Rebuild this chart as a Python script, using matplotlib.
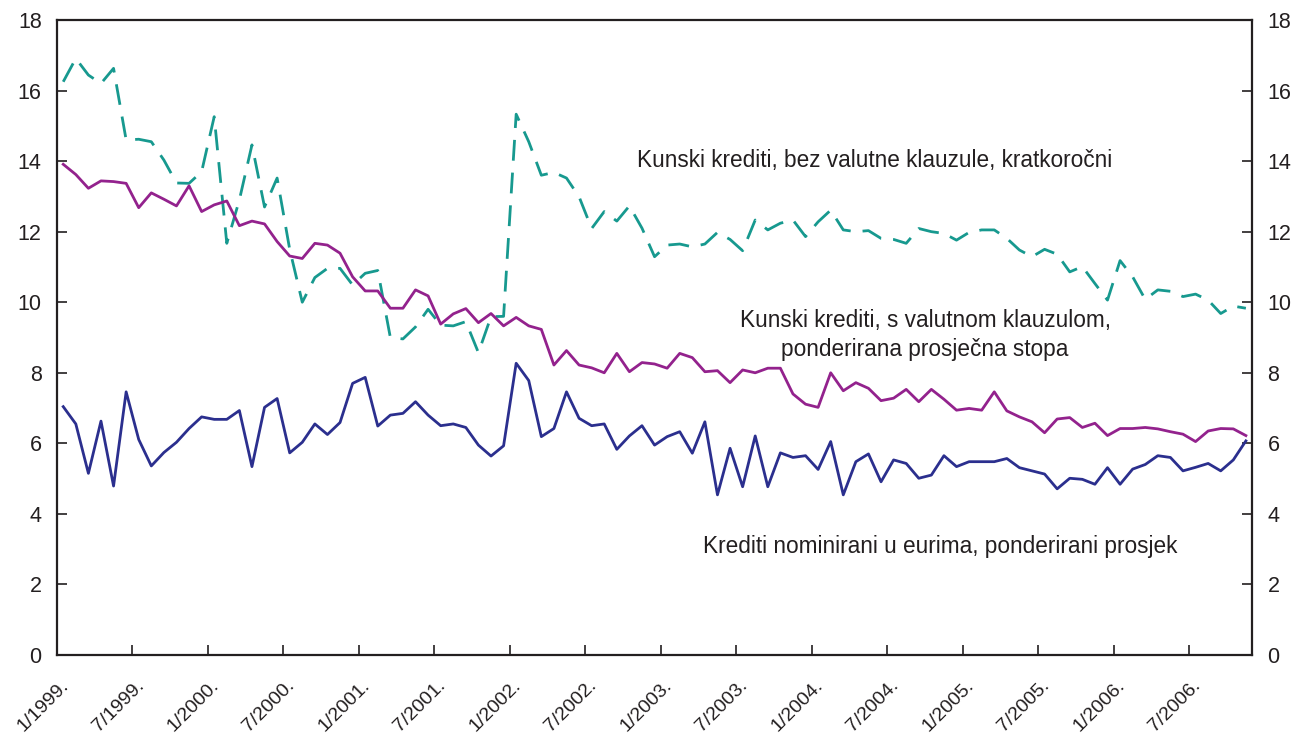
import matplotlib
matplotlib.use("Agg")
import matplotlib.pyplot as plt
import numpy as np

# ---- data (monthly, 1/1999 .. 11/2006) ----
kn_bez_klauzule = [
    16.25, 16.91, 16.44, 16.20, 16.63, 14.60, 14.62, 14.55, 14.03, 13.38, 13.37, 13.70,
    15.26, 11.67, 12.90, 14.46, 12.70, 13.52, 11.50, 10.00, 10.70, 10.96, 10.96, 10.49,
    10.82, 10.90, 9.00, 8.96, 9.30, 9.80, 9.35, 9.33, 9.45, 8.57, 9.59, 9.60,
    15.33, 14.55, 13.60, 13.68, 13.52, 12.99, 12.09, 12.57, 12.30, 12.73, 12.10, 11.29,
    11.62, 11.65, 11.57, 11.65, 11.98, 11.78, 11.46, 12.33, 12.05, 12.24, 12.33, 11.86,
    12.28, 12.61, 12.05, 12.00, 12.03, 11.81, 11.78, 11.67, 12.09, 12.00, 11.95, 11.76,
    11.98, 12.05, 12.05, 11.81, 11.48, 11.29, 11.50, 11.36, 10.86, 11.01, 10.53, 10.06,
    11.18, 10.72, 10.08, 10.35, 10.31, 10.16, 10.23, 10.06, 9.68, 9.89, 9.83,
]
kn_s_klauzulom = [
    13.91, 13.62, 13.23, 13.44, 13.42, 13.37, 12.68, 13.10, 12.92, 12.73, 13.30, 12.57,
    12.76, 12.87, 12.17, 12.30, 12.22, 11.72, 11.31, 11.24, 11.67, 11.62, 11.39, 10.72,
    10.32, 10.32, 9.83, 9.83, 10.35, 10.18, 9.38, 9.67, 9.82, 9.42, 9.68, 9.33,
    9.57, 9.33, 9.23, 8.22, 8.63, 8.22, 8.14, 8.00, 8.55, 8.03, 8.29, 8.25,
    8.13, 8.55, 8.43, 8.03, 8.06, 7.72, 8.08, 8.00, 8.13, 8.13, 7.40, 7.11,
    7.02, 8.00, 7.49, 7.72, 7.56, 7.21, 7.28, 7.53, 7.18, 7.53, 7.25, 6.94,
    6.99, 6.94, 7.46, 6.92, 6.75, 6.61, 6.30, 6.69, 6.73, 6.45, 6.57, 6.22,
    6.42, 6.42, 6.45, 6.41, 6.33, 6.26, 6.05, 6.35, 6.42, 6.41, 6.22,
]
eur_krediti = [
    7.04, 6.55, 5.15, 6.63, 4.79, 7.46, 6.11, 5.36, 5.74, 6.03, 6.42, 6.75,
    6.68, 6.68, 6.93, 5.34, 7.02, 7.27, 5.73, 6.03, 6.55, 6.25, 6.59, 7.70,
    7.87, 6.49, 6.80, 6.85, 7.18, 6.80, 6.50, 6.55, 6.45, 5.95, 5.64, 5.93,
    8.27, 7.78, 6.19, 6.42, 7.46, 6.71, 6.50, 6.55, 5.83, 6.21, 6.50, 5.95,
    6.19, 6.33, 5.72, 6.61, 4.54, 5.86, 4.77, 6.21, 4.77, 5.73, 5.60, 5.65,
    5.26, 6.05, 4.54, 5.48, 5.70, 4.91, 5.53, 5.43, 5.01, 5.10, 5.65, 5.34,
    5.48, 5.48, 5.48, 5.57, 5.31, 5.22, 5.13, 4.71, 5.01, 4.98, 4.84, 5.31,
    4.84, 5.27, 5.40, 5.65, 5.60, 5.22, 5.32, 5.43, 5.22, 5.53, 6.07,
]
tick_labels = ["1/1999.", "7/1999.", "1/2000.", "7/2000.", "1/2001.", "7/2001.",
               "1/2002.", "7/2002.", "1/2003.", "7/2003.", "1/2004.", "7/2004.",
               "1/2005.", "7/2005.", "1/2006.", "7/2006."]
label_bez = "Kunski krediti, bez valutne klauzule, kratkoročni"
label_s = "Kunski krediti, s valutnom klauzulom,\nponderirana prosječna stopa"
label_eur = "Krediti nominirani u eurima, ponderirani prosjek"

# ---- style ----
plt.rcParams['font.family'] = ['Liberation Sans', 'DejaVu Sans']
TEXT = "#231f20"
TEAL = "#17998f"
PURPLE = "#93228d"
NAVY = "#2b2f8e"

fig = plt.figure(figsize=(13.03, 7.33), dpi=100)
ax = fig.add_axes([0.0437, 0.1064, 0.9173, 0.8663])

n = len(eur_krediti)
x = np.arange(n)

ax.plot(x, kn_bez_klauzule, color=TEAL, lw=2.0, dashes=(7.5, 4.3), dash_capstyle='butt')
ax.plot(x, kn_s_klauzulom, color=PURPLE, lw=2.0)
ax.plot(x, eur_krediti, color=NAVY, lw=2.0)

ax.set_xlim(-0.5, n - 0.5)
ax.set_ylim(0, 18)
ax.set_yticks(np.arange(0, 19, 2))

# major ticks: boundaries between months (tick marks only)
tick_pos = np.arange(len(tick_labels)) * 6 - 0.5
ax.set_xticks(tick_pos)
ax.set_xticklabels([])
# minor ticks: carry the rotated labels, slightly to the right
ax.set_xticks(tick_pos + 0.7, minor=True)
ax.set_xticklabels(tick_labels, minor=True, rotation=45, ha='right', va='center',
                   rotation_mode='anchor', fontsize=14, color=TEXT)

ax.tick_params(axis='x', which='major', direction='in', length=7, width=1.2,
               color=TEXT, labelbottom=False)
ax.tick_params(axis='x', which='minor', length=0, pad=20)
ax.tick_params(axis='y', direction='in', length=7, width=1.2, color=TEXT,
               labelsize=15.5, labelcolor=TEXT, pad=11,
               left=True, right=True, labelleft=True, labelright=True)

for sp in ax.spines.values():
    sp.set_linewidth(1.6)
    sp.set_color(TEXT)

ax.text(45.6, 14.03, label_bez, fontsize=16.3, color=TEXT, ha='left', va='center')
ax.text(68.5, 9.07, label_s, fontsize=16.3, color=TEXT, ha='center', va='center',
        multialignment='center', linespacing=1.35)
ax.text(50.85, 3.09, label_eur, fontsize=16.3, color=TEXT, ha='left', va='center')

fig.savefig("out.png", dpi=100)
